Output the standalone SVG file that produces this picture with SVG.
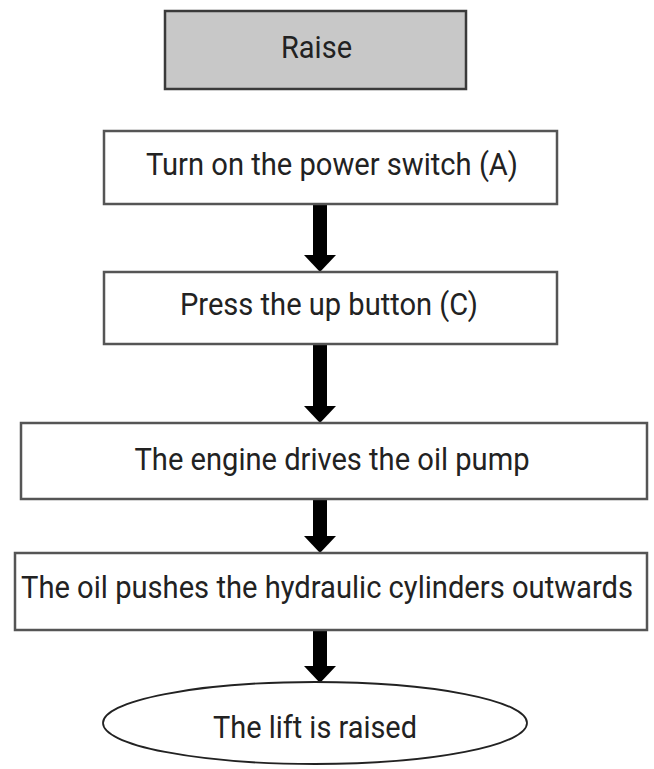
<svg xmlns="http://www.w3.org/2000/svg" width="654" height="769" viewBox="0 0 654 769">
<style>
  .box { fill: #ffffff; stroke: #555555; stroke-width: 2.5; }
  .head { fill: #c8c8c8; stroke: #3a3a3a; stroke-width: 2.5; }
  .term { fill: #ffffff; stroke: #222222; stroke-width: 1.8; }
  .lbl { font-family: Roboto, "Liberation Sans", sans-serif; font-size: 30.5px; fill: #222222; text-anchor: middle; }
  .conn { stroke: #000000; stroke-width: 14; fill: none; }
</style>
<defs>
  <marker id="ah" viewBox="0 0 17 32" refX="0" refY="16" markerWidth="17" markerHeight="32" markerUnits="userSpaceOnUse" orient="auto">
    <path d="M0,0 L17,16 L0,32 Z" fill="#000000"/>
  </marker>
</defs>
<rect width="654" height="769" fill="#ffffff"/>
<g id="connectors">
  <line class="conn" x1="320" y1="204" x2="320" y2="255" marker-end="url(#ah)"/>
  <line class="conn" x1="320" y1="344" x2="320" y2="406" marker-end="url(#ah)"/>
  <line class="conn" x1="320" y1="499" x2="320" y2="536" marker-end="url(#ah)"/>
  <line class="conn" x1="320" y1="630" x2="320" y2="666" marker-end="url(#ah)"/>
</g>
<g id="raise">
  <rect class="head" x="165" y="11" width="301" height="78"/>
  <text class="lbl" x="316.5" y="58" textLength="71" lengthAdjust="spacingAndGlyphs">Raise</text>
</g>
<g id="power">
  <rect class="box" x="104" y="131" width="453" height="73"/>
  <text class="lbl" x="332" y="175" textLength="372" lengthAdjust="spacingAndGlyphs">Turn on the power switch (A)</text>
</g>
<g id="upbutton">
  <rect class="box" x="104" y="272" width="453" height="72"/>
  <text class="lbl" x="329" y="315" textLength="298" lengthAdjust="spacingAndGlyphs">Press the up button (C)</text>
</g>
<g id="engine">
  <rect class="box" x="21" y="423" width="626" height="76"/>
  <text class="lbl" x="332" y="470" textLength="395" lengthAdjust="spacingAndGlyphs">The engine drives the oil pump</text>
</g>
<g id="oil">
  <rect class="box" x="15" y="553" width="632" height="77"/>
  <text class="lbl" x="327" y="598" textLength="612" lengthAdjust="spacingAndGlyphs">The oil pushes the hydraulic cylinders outwards</text>
</g>
<g id="lift">
  <ellipse class="term" cx="315" cy="723" rx="212" ry="41"/>
  <text class="lbl" x="315" y="738" textLength="204" lengthAdjust="spacingAndGlyphs">The lift is raised</text>
</g>
</svg>
